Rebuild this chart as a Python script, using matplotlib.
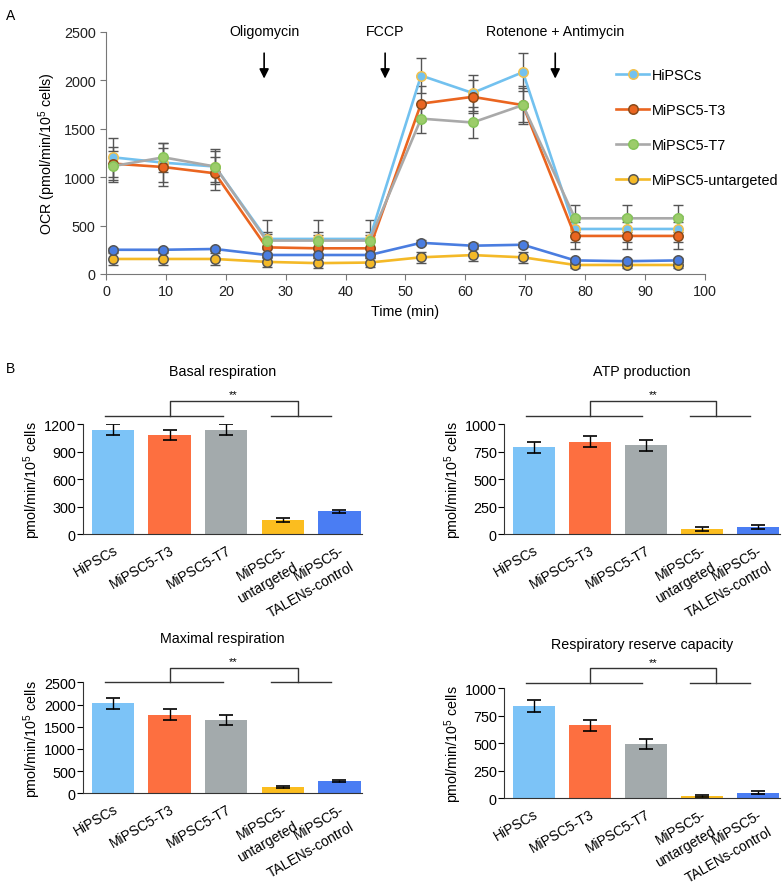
import numpy as np
import matplotlib
matplotlib.use("Agg")
import matplotlib.pyplot as plt
import matplotlib.transforms as mtransforms

plt.rcParams['font.family'] = ['Liberation Sans', 'DejaVu Sans']
plt.rcParams['mathtext.default'] = 'regular'
plt.rcParams['font.size'] = 10

# ---- panel A data ----
time_min = [1.2, 9.6, 18.2, 26.8, 35.4, 44.0, 52.6, 61.2, 69.6, 78.3, 86.9, 95.5]
ocr_hipsc = [1205, 1150, 1110, 362, 362, 362, 2050, 1870, 2085, 465, 465, 465]
ocr_t3 = [1140, 1105, 1040, 275, 265, 265, 1760, 1830, 1745, 393, 393, 393]
ocr_t7 = [1115, 1205, 1110, 345, 345, 345, 1605, 1565, 1745, 575, 575, 575]
ocr_untargeted = [155, 155, 155, 125, 112, 118, 172, 195, 172, 93, 93, 93]
ocr_talens = [250, 250, 258, 196, 196, 196, 322, 292, 302, 140, 132, 140]
err_hipsc = [200, 200, 180, 200, 200, 200, 185, 190, 195, 130, 130, 130]
err_t3 = [170, 200, 170, 140, 140, 140, 180, 170, 200, 140, 140, 140]
err_t7 = [160, 150, 160, 90, 90, 90, 150, 160, 180, 140, 140, 140]
err_untargeted = [60, 60, 60, 50, 50, 50, 60, 60, 60, 30, 30, 30]
err_talens = [20, 20, 20, 20, 20, 20, 25, 25, 25, 20, 20, 20]

injections = ["Oligomycin", "FCCP", "Rotenone + Antimycin"]
injection_times = [26.4, 46.6, 75.0]

# ---- panel B data ----
groups = ["HiPSCs", "MiPSC5-T3", "MiPSC5-T7", "MiPSC5-\nuntargeted", "MiPSC5-\nTALENs-control"]
basal = [1140, 1085, 1140, 155, 247]
basal_err = [60, 55, 60, 20, 20]
atp = [790, 840, 808, 45, 62]
atp_err = [50, 50, 50, 18, 18]
maximal = [2025, 1770, 1655, 150, 285]
maximal_err = [125, 120, 120, 20, 20]
reserve = [840, 665, 495, 18, 50]
reserve_err = [55, 50, 45, 10, 15]

bar_colors = ["#7cc3f7", "#fd6f40", "#a3aaac", "#fbbd1f", "#4a7df3"]

fig = plt.figure(figsize=(7.84, 8.87), dpi=100)

# ---------------- panel A ----------------
ax = fig.add_axes([0.1352, 0.69, 0.764, 0.2728])
series = [
    ("HiPSCs", ocr_hipsc, err_hipsc, "#72c1ef", "#72c1ef", "#f2c14e"),
    ("MiPSC5-T3", ocr_t3, err_t3, "#ea6520", "#ea6520", "#8a4a1a"),
    ("MiPSC5-T7", ocr_t7, err_t7, "#a9a9a9", "#9ccc6a", "#86c45a"),
    ("MiPSC5-untargeted", ocr_untargeted, err_untargeted, "#f4b927", "#f4b927", "#555555"),
    (None, ocr_talens, err_talens, "#4a7de0", "#4a7de0", "#555555"),
]
for label, vals, errs, lc, fc, ec in series:
    ax.errorbar(time_min, vals, yerr=errs, fmt="none", ecolor="#555555",
                elinewidth=1, capsize=3.6, zorder=2)
    ax.plot(time_min, vals, "-o", color=lc, lw=1.9, ms=6.8, mfc=fc, mec=ec,
            mew=1.1, label=label if label else "_nolegend_", zorder=3)

ax.set_xlim(0, 100)
ax.set_ylim(0, 2500)
ax.set_xticks(range(0, 101, 10))
ax.set_yticks(range(0, 2501, 500))
for s in ["top", "right"]:
    ax.spines[s].set_visible(False)
for s in ["left", "bottom"]:
    ax.spines[s].set_color("#777777")
ax.tick_params(colors="#777777", labelcolor="#222222", labelsize=10.4, length=4)
ax.set_xlabel("Time (min)", fontsize=10.3)
ax.set_ylabel("OCR (pmol/min/10$^5$ cells)", fontsize=10.3)

for name, t in zip(injections, injection_times):
    ax.annotate("", xy=(t, 1990), xytext=(t, 2310),
                arrowprops=dict(arrowstyle="-|>", color="black", lw=1.2,
                                mutation_scale=14),
                annotation_clip=False)
    ax.text(t, 2510, name, ha="center", va="center", fontsize=10.2, clip_on=False)

ax.legend(loc="upper left", bbox_to_anchor=(0.83, 0.905), frameon=False,
          handlelength=2.3, labelspacing=1.45, handletextpad=0.2, fontsize=10.4)

# ---------------- panel B ----------------
def bar_panel(rect, title, vals, errs, ymax, step, title_pad, br_low, br_high):
    bx = fig.add_axes(rect)
    x = np.arange(len(vals))
    bx.bar(x, vals, width=0.75, color=bar_colors, zorder=1)
    bx.errorbar(x, vals, yerr=errs, fmt="none", ecolor="black", elinewidth=1,
                capsize=5, capthick=1.2, zorder=2)
    bx.set_xlim(-0.53, 4.4)
    bx.set_ylim(0, ymax)
    bx.set_yticks(np.arange(0, ymax + 1, step))
    bx.set_xticks(x)
    bx.set_xticklabels(groups, rotation=30, ha="right", rotation_mode="anchor",
                       multialignment="right", linespacing=1.5, fontsize=10)
    bx.tick_params(axis="x", length=0, pad=6)
    bx.tick_params(axis="y", length=4, pad=1.2, labelsize=10.4)
    for s in ["top", "right"]:
        bx.spines[s].set_visible(False)
    for s in ["left", "bottom"]:
        bx.spines[s].set_color("#333333")
    bx.set_ylabel("pmol/min/10$^5$ cells", fontsize=10.3, labelpad=1)
    bx.set_title(title, fontsize=10.3, pad=title_pad)
    # significance bracket
    tr = mtransforms.blended_transform_factory(bx.transData, bx.transAxes)
    kw = dict(color="#333333", lw=1, transform=tr, clip_on=False)
    bx.plot([-0.14, 1.94], [br_low, br_low], **kw)
    bx.plot([2.8, 3.86], [br_low, br_low], **kw)
    bx.plot([1.0, 1.0, 3.26, 3.26], [br_low, br_high, br_high, br_low], **kw)
    bx.text(2.13, br_high + 0.015, "**", transform=tr, ha="center", va="bottom",
            fontsize=8)
    return bx

bar_panel([0.1059, 0.3968, 0.3559, 0.124], "Basal respiration", basal, basal_err,
          1200, 300, 35, 1.073, 1.209)
bar_panel([0.6429, 0.3968, 0.352, 0.124], "ATP production", atp, atp_err,
          1000, 250, 35, 1.07, 1.21)
bar_panel([0.1059, 0.1045, 0.3559, 0.1251], "Maximal respiration", maximal, maximal_err,
          2500, 500, 29, 1.0, 1.13)
bar_panel([0.6429, 0.0989, 0.352, 0.124], "Respiratory reserve capacity", reserve, reserve_err,
          1000, 250, 29, 1.048, 1.18)

fig.text(0.008, 0.99, "A", fontsize=10, va="top")
fig.text(0.008, 0.592, "B", fontsize=10, va="top")

fig.savefig("out.png", dpi=100)
